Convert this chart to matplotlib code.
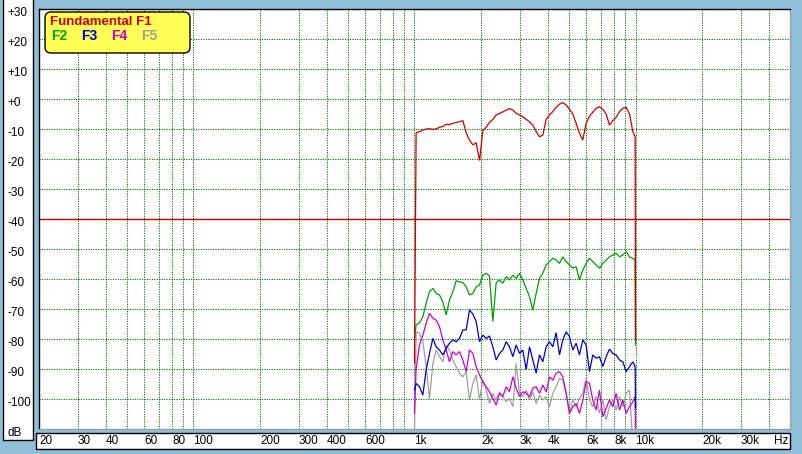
import matplotlib
matplotlib.use('Agg')
import matplotlib.pyplot as plt
import matplotlib.transforms as mtransforms
from matplotlib.patches import Rectangle, FancyBboxPatch

plt.rcParams['font.family'] = ['Liberation Sans', 'DejaVu Sans']

# frequencies (Hz) shared by all harmonic curves
freq = [1000, 1017, 1053, 1091, 1129, 1169, 1211, 1253, 1298, 1343, 1391, 1440, 1491, 1544,
        1598, 1655, 1713, 1774, 1837, 1901, 1969, 2038, 2110, 2185, 2262, 2342, 2425, 2510,
        2599, 2690, 2786, 2884, 2986, 3091, 3201, 3314, 3431, 3552, 3677, 3807, 3942, 4081,
        4225, 4374, 4529, 4689, 4854, 5026, 5203, 5387, 5577, 5774, 5978, 6189, 6408, 6634,
        6869, 7111, 7362, 7622, 7891, 8170, 8465, 8765, 9074, 9395, 9726, 9960, 10000]

f1 = [-88,
      -11.2, -10.9, -10.3, -10.0, -9.9, -10.1, -10.0, -9.4, -9.2, -8.4, -8.6, -8.1, -7.8, -7.6, -7.2, -11.2,
      -13.7, -15.3, -14.6, -20.5, -10.6, -9.4, -7.8, -6.8, -5.3, -4.8,
      -4.3, -3.7, -3.2, -3.7, -4.8, -5.3, -5.9, -6.8, -7.6, -8.7,
      -10.9, -12.6, -12.0, -6.8, -5.3, -4.2, -2.8, -1.7, -1.2, -2.0,
      -3.4, -5.0, -8.1, -11.4, -13.7, -8.1, -5.7, -4.4, -3.1, -2.6,
      -3.4, -5.0, -8.7, -7.2, -6.1, -4.2, -3.1, -2.8, -5.0, -10.9,
      -12.6, -80]

f2 = [-80,
      -75.3, -74.6, -72.6, -68.1, -64.2, -63.1, -64.8, -65.3, -67.6, -72.0, -67.0, -64.2, -60.6, -60.9, -61.2, -62.6,
      -65.3, -64.8, -62.6, -62.0, -58.7, -58.1, -59.0, -74.2, -61.2, -60.3,
      -61.4, -59.2, -60.3, -58.7, -59.8, -58.1, -60.3, -63.1, -65.9, -70.3,
      -64.8, -59.8, -58.1, -55.3, -54.2, -53.1, -53.7, -54.8, -52.6, -54.2,
      -55.3, -56.4, -55.9, -60.3, -57.0, -54.8, -53.1, -54.2, -55.3, -56.4,
      -54.8, -53.7, -52.6, -52.0, -51.4, -52.6, -52.0, -50.9, -52.6, -53.1,
      -53.7, -82]

f3 = [-97,
      -94.8, -95.9, -98.7, -90.3, -84.8, -79.8, -82.6, -83.7, -85.3, -83.1, -81.4, -80.3, -80.9, -79.8, -77.0, -77.0,
      -70.3, -71.7, -74.2, -80.9, -78.7, -79.8, -79.0, -82.6, -87.0, -84.8,
      -83.7, -80.9, -82.6, -85.9, -82.0, -84.8, -83.7, -90.3, -82.6, -87.0,
      -91.4, -85.3, -87.6, -82.6, -80.9, -82.6, -77.9, -85.3, -80.3, -77.6,
      -79.2, -83.7, -81.4, -85.3, -80.3, -82.0, -90.9, -85.3, -86.4, -85.9,
      -89.2, -85.9, -83.4, -84.8, -85.3, -87.0, -87.6, -90.9, -89.2, -87.6,
      -89.2, -103]

f4 = [-104.8,
      -90.0, -82.0, -78.7, -74.8, -71.4, -73.1, -73.7, -75.9, -80.3, -83.7, -87.6, -84.2, -85.3, -84.2, -87.0, -90.9,
      -83.7, -84.8, -89.2, -92.0, -94.2, -95.9, -97.6, -99.8, -102.0, -98.1,
      -99.2, -95.9, -97.6, -92.6, -96.4, -99.2, -97.6, -98.1, -99.2, -96.4,
      -95.9, -98.1, -95.3, -97.6, -92.6, -93.7, -91.4, -90.9, -92.6, -98.1,
      -104.8, -102.6, -101.5, -104.8, -100.3, -94.2, -94.8, -100.3, -103.7, -97.0,
      -105.9, -103.1, -100.3, -102.6, -98.1, -103.7, -100.3, -104.8, -102.6, -100.9,
      -99.2, -115]

f5 = [-110,
      -77.6, -78.1, -80.9, -89.2, -100.0, -88.1, -83.7, -85.9, -87.6, -82.0, -83.7, -87.0, -89.2, -91.4, -92.6, -90.9,
      -100.3, -94.8, -92.0, -100.3, -93.7, -97.0, -101.5, -98.1, -100.3, -97.6,
      -99.2, -100.9, -99.8, -102.6, -88.1, -98.1, -99.2, -97.0, -100.3, -97.6,
      -101.5, -98.7, -100.3, -99.2, -102.6, -98.1, -95.9, -93.1, -93.7, -98.1,
      -104.8, -100.3, -102.6, -99.8, -98.1, -93.1, -100.3, -102.6, -99.2, -104.8,
      -100.3, -107.0, -102.6, -100.3, -103.7, -99.2, -102.6, -98.1, -97.0, -115,
      -115, -115]

series_names = ['Fundamental F1', 'F2', 'F3', 'F4', 'F5']
series_colors = ['#cc0000', '#00a000', '#0000d0', '#cc00cc', '#a0a0a0']

x_ticks = [20, 30, 40, 60, 80, 100, 200, 300, 400, 600, 1000, 2000, 3000, 4000, 6000, 8000,
           10000, 20000, 30000, 42500]
x_labels = ['20', '30', '40', '60', '80', '100', '200', '300', '400', '600', '1k', '2k', '3k',
            '4k', '6k', '8k', '10k', '20k', '30k', 'Hz']
x_grid = [30, 40, 50, 60, 70, 80, 90, 100, 200, 300, 400, 500, 600, 700, 800, 900,
          1000, 2000, 3000, 4000, 5000, 6000, 7000, 8000, 9000, 10000, 20000, 30000, 40000]
y_ticks = [30, 20, 10, 0, -10, -20, -30, -40, -50, -60, -70, -80, -90, -100, -110]
y_labels = ['+30', '+20', '+10', '+0', '-10', '-20', '-30', '-40', '-50', '-60', '-70',
            '-80', '-90', '-100', 'dB']
y_grid = [20, 10, 0, -10, -20, -30, -50, -60, -70, -80, -90, -100]
ref_level = -40

W, H = 803, 454
bg = '#8fbfd7'
fig = plt.figure(figsize=(W / 100, H / 100), dpi=100, facecolor=bg)

# plot area in pixels: x 39..790, y 9..429 (from top)
ax = fig.add_axes([39 / W, (H - 429) / H, (790 - 39) / W, (429 - 9) / H])
ax.set_facecolor('white')
ax.set_xscale('log')
ax.set_xlim(20, 50000)
ax.set_ylim(-110, 30)

grid_style = dict(color='#007000', lw=0.8, ls=(0, (1, 1.2)), zorder=1)
for g in x_grid:
    ax.axvline(g, **grid_style)
for g in y_grid:
    ax.axhline(g, **grid_style)
ax.axhline(ref_level, color='#c00000', lw=1.0, zorder=1.5)

data = [f1, f2, f3, f4, f5]
for vals, col in reversed(list(zip(data, series_colors))):
    ax.plot(freq, vals, color=col, lw=0.9, zorder=2, solid_joinstyle='miter')

for side in ['top', 'left']:
    ax.spines[side].set_color('black')
    ax.spines[side].set_linewidth(1.0)
for side in ['bottom', 'right']:
    ax.spines[side].set_color('#a0a0a0')
    ax.spines[side].set_linewidth(1.0)

ax.set_xticks(x_ticks)
ax.set_xticklabels(x_labels)
ax.xaxis.set_minor_locator(matplotlib.ticker.NullLocator())
ax.tick_params(axis='x', length=0, pad=4.5, labelsize=8.5)
for lab in ax.get_xticklabels():
    lab.set_horizontalalignment('left')

ax.set_yticks(y_ticks)
ax.set_yticklabels(y_labels)
ax.tick_params(axis='y', length=0, pad=23, labelsize=8.5)
shift = mtransforms.ScaledTranslation(0, -0.025, fig.dpi_scale_trans)
for lab in ax.get_yticklabels():
    lab.set_horizontalalignment('left')
    lab.set_transform(lab.get_transform() + shift)

# label boxes (white with black border), in inches from bottom-left
inch = fig.dpi_scale_trans
fig.add_artist(Rectangle((3 / 100, (H - 440) / 100), 30 / 100, 450 / 100,
                         facecolor='white', edgecolor='black', lw=1.0, transform=inch, zorder=-1))
fig.add_artist(Rectangle((36 / 100, (H - 449) / 100), (790 - 36) / 100, 16 / 100,
                         facecolor='white', edgecolor='black', lw=1.0, transform=inch, zorder=-1))

# legend box
fig.add_artist(FancyBboxPatch((45 / 100, (H - 53) / 100), 145 / 100, 41 / 100,
                              boxstyle='round,pad=0,rounding_size=0.06',
                              facecolor='#ffff55', edgecolor='black', lw=1.0,
                              transform=inch, zorder=5))
fig.text(50 / W, 1 - 22 / H, series_names[0], color=series_colors[0], fontsize=9.5,
         fontweight='bold', va='center', ha='left', zorder=6)
for name, col, xp in zip(series_names[1:], series_colors[1:], [51, 81, 111, 141]):
    fig.text(xp / W, 1 - 36 / H, name, color=col, fontsize=10, fontweight='bold',
             va='center', ha='left', zorder=6)

fig.savefig('out.png', dpi=100, facecolor=bg)
